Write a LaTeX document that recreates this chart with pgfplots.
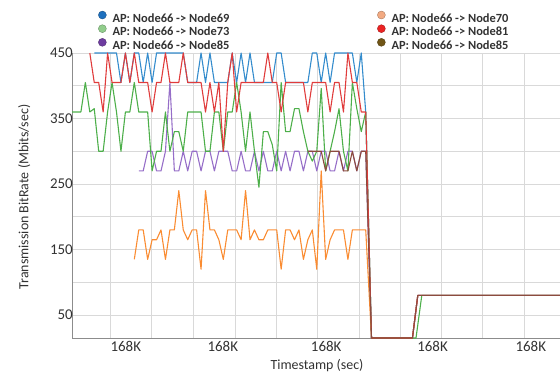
\documentclass[border=0pt]{standalone}
\usepackage{pgfplots}
\pgfplotsset{compat=1.18}
\usepackage{fontspec}
\setmainfont{Carlito}
\definecolor{cblue}{RGB}{52,140,205}
\definecolor{cgreen}{RGB}{77,175,74}
\definecolor{cpurple}{RGB}{150,110,200}
\definecolor{corange}{RGB}{250,140,50}
\definecolor{cred}{RGB}{224,60,60}
\definecolor{cbrown}{RGB}{140,75,62}
\definecolor{lblue}{RGB}{30,112,190}
\definecolor{lgreen}{RGB}{145,205,140}
\definecolor{lpurple}{RGB}{110,60,160}
\definecolor{lorange}{RGB}{242,170,130}
\definecolor{lred}{RGB}{235,35,35}
\definecolor{lbrown}{RGB}{112,85,22}
\definecolor{gridgray}{RGB}{217,217,217}
\definecolor{axisgray}{RGB}{140,140,140}
\definecolor{labelgray}{RGB}{50,50,50}
\pgfplotsset{
  legaxis/.style={
    at={(72bp,38bp)}, anchor=south west,
    scale only axis, width=488bp, height=285bp,
    xmin=0, xmax=1, ymin=0, ymax=1, hide axis,
    legend cell align=left,
    legend style={anchor=north west, draw=none, fill=none, inner sep=0pt,
      font=\bfseries\fontsize{12.5}{14}\selectfont, text=labelgray,
      column sep=6bp, row sep=-0.5bp,
      nodes={inner sep=0pt, text height=9bp, text depth=3bp}},
  },
  dot/.style={legend image code/.code={\filldraw[fill=#1, draw=#1!65!black, line width=0.3bp] (4bp,4bp) circle (4bp);}},
}
\begin{document}
\begin{tikzpicture}[x=1bp,y=1bp]
\path[use as bounding box] (0,0) rectangle (560,376);
\begin{axis}[
  at={(72bp,38bp)}, anchor=south west,
  scale only axis, width=488bp, height=285bp,
  xmin=0, xmax=109.66, ymin=15, ymax=450,
  axis x line*=bottom, axis y line*=left,
  axis line style={draw=axisgray, line width=0.8bp, -},
  xtick={12.09,33.89,57.12,81.01,103.1},
  xticklabels={168K,168K,168K,168K,168K},
  minor xtick={8.70,17.91,27.26,36.63,45.84,55.21,64.49,73.71,82.92,92.29,101.57},
  ytick={50,150,250,350,450},
  minor ytick={100,200,300,400},
  xmajorgrids=false, xminorgrids=true, ymajorgrids=true, yminorgrids=true,
  grid style={draw=gridgray, line width=0.6bp},
  minor grid style={draw=gridgray, line width=0.6bp},
  major tick length=0pt, minor tick length=0pt,
  tick label style={font=\fontsize{15}{18}\selectfont, text=labelgray},
  /pgf/number format/assume math mode=true,
  yticklabel style={inner xsep=0pt, xshift=1bp},
  xlabel={Timestamp (sec)}, ylabel={Transmission BitRate (Mbits/sec)},
  label style={font=\fontsize{14}{17}\selectfont, text=labelgray},
  xlabel style={at={(axis description cs:0.502,-0.095)}, anchor=center},
  ylabel style={at={(axis description cs:-0.098,0.495)}, anchor=center},
  line join=round,
]
% blue: Node69
\addplot[cblue, line width=1.1bp] coordinates {
(5,450)(6,450)(7,450)(8,450)(9,450)(10,450)(11,405)(12,450)(13,405)(14,450)
(15,450)(16,405)(17,450)(18,405)(19,450)(20,450)(21,450)(22,450)(23,450)(24,450)
(25,450)(26,405)(27,405)(28,405)(29,450)(30,405)(31,450)(32,405)(33,405)(34,405)
(35,405)(36,450)(37,405)(38,450)(39,405)(40,450)(41,405)(42,405)(43,405)(44,405)
(45,405)(46,450)(47,450)(48,405)(49,405)(50,405)(51,405)(52,405)(53,405)(54,450)
(55,450)(56,405)(57,450)(58,405)(59,450)(60,450)(61,450)(62,450)(63,450)(64,405)
(65,450)(66,360)(67.3,15)(76.5,15)(77.7,80)(110,80)};
% purple: Node85
\addplot[cpurple, line width=1.1bp] coordinates {
(15,270)(16,270)(17,300)(18,300)(19,270)(20,270)(21,300)(22,405)(23,270)(24,270)
(25,300)(26,270)(27,300)(28,300)(29,270)(30,300)(31,300)(32,270)(33,300)(34,300)
(35,300)(36,270)(37,270)(38,300)(39,270)(40,270)(41,300)(42,270)(43,300)(44,270)
(45,270)(46,300)(47,270)(48,300)(49,270)(50,300)(51,300)(52,270)(53,300)(54,300)
(55,270)(56,300)(57,300)(58,270)(59,270)(60,300)(61,270)(62,300)(63,300)(64,270)
(65,300)(66,300)(67.3,15)(76.5,15)(77.7,80)(110,80)};
% orange: Node70
\addplot[corange, line width=1.1bp] coordinates {
(14,135)(15,180)(16,180)(17,135)(18,165)(19,165)(20,180)(21,135)(22,180)(23,180)
(24,240)(25,180)(26,165)(27,180)(28,180)(29,120)(30,240)(31,180)(32,180)(33,165)
(34,135)(35,180)(36,180)(37,180)(38,165)(39,240)(40,165)(41,180)(42,165)(43,165)
(44,180)(45,180)(46,180)(47,120)(48,180)(49,180)(50,165)(51,180)(52,135)(53,165)
(54,180)(55,120)(56,270)(57,135)(58,165)(59,180)(60,180)(61,180)(62,135)(63,180)
(64,180)(65,180)(66,180)(67.3,15)(76.5,15)(77.7,80)(110,80)};
% green: Node73
\addplot[cgreen, line width=1.1bp] coordinates {
(0,360)(1,360)(2,360)(3,405)(4,360)(5,365)(6,300)(7,300)(8,360)(9,405)
(10,360)(11,300)(12,360)(13,360)(14,405)(15,360)(16,360)(17,360)(18,270)(19,300)
(20,300)(21,360)(22,300)(23,330)(24,330)(25,300)(26,360)(27,360)(28,360)(29,360)
(30,300)(31,300)(32,360)(33,360)(34,300)(35,360)(36,360)(37,405)(38,360)(39,300)
(40,360)(41,300)(42,245)(43,330)(44,330)(45,310)(46,270)(47,405)(48,330)(49,330)
(50,365)(51,365)(52,330)(53,300)(54,285)(55,300)(56,396)(57,270)(58,300)(59,330)
(60,365)(61,300)(62,270)(63,405)(64,365)(65,330)(66,360)(67.3,15)(77.3,15)(78.6,80)(110,80)};
% red: Node81
\addplot[cred, line width=1.1bp] coordinates {
(4,450)(5,405)(6,405)(7,360)(8,450)(9,405)(10,405)(11,405)(12,450)(13,405)
(14,450)(15,405)(16,405)(17,405)(18,360)(19,405)(20,405)(21,450)(22,405)(23,405)
(24,405)(25,450)(26,405)(27,405)(28,405)(29,405)(30,360)(31,405)(32,360)(33,405)
(34,300)(35,405)(36,450)(37,360)(38,405)(39,405)(40,405)(41,405)(42,405)(43,405)
(44,450)(45,405)(46,405)(47,360)(48,405)(49,405)(50,405)(51,405)(52,405)(53,360)
(54,405)(55,405)(56,405)(57,405)(58,360)(59,405)(60,405)(61,360)(62,450)(63,405)
(64,405)(65,360)(66,360)(67.3,15)(76.5,15)(77.7,80)(110,80)};
% brown: Node85
\addplot[cbrown, line width=1.1bp] coordinates {
(53,300)(54,300)(55,300)(56,300)(57,270)(58,300)(59,300)(60,300)(61,270)(62,270)
(63,300)(64,270)(65,300)(66,300)(67.3,15)(76.5,15)(77.7,80)(110,80)};
\end{axis}
% left legend column
\begin{axis}[legaxis, legend style={at={(axis description cs:0.0533,1.1485)}}]
\addlegendimage{dot=lblue}\addlegendentry{AP: Node66 -> Node69}
\addlegendimage{dot=lgreen}\addlegendentry{AP: Node66 -> Node73}
\addlegendimage{dot=lpurple}\addlegendentry{AP: Node66 -> Node85}
\end{axis}
% right legend column
\begin{axis}[legaxis, legend style={at={(axis description cs:0.625,1.1485)}}]
\addlegendimage{dot=lorange}\addlegendentry{AP: Node66 -> Node70}
\addlegendimage{dot=lred}\addlegendentry{AP: Node66 -> Node81}
\addlegendimage{dot=lbrown}\addlegendentry{AP: Node66 -> Node85}
\end{axis}
\end{tikzpicture}
\end{document}
